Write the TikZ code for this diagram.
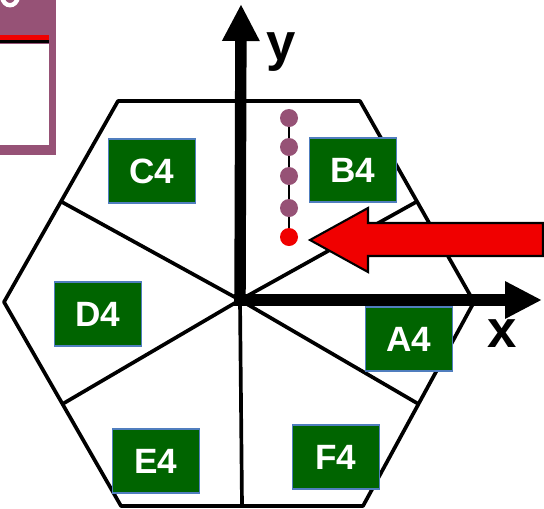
\documentclass[tikz,border=0pt]{standalone}
\usepackage{fontspec}
\setmainfont{Liberation Sans}
\usetikzlibrary{arrows.meta,calc,positioning}
\definecolor{boxgreen}{RGB}{0,100,0}
\definecolor{boxedge}{RGB}{80,126,190}
\definecolor{framepurple}{RGB}{150,82,118}
\definecolor{arrowred}{RGB}{240,0,0}

\begin{document}
\begin{tikzpicture}[x=0.02cm,y=-0.02cm,
    sector/.style={fill=boxgreen,draw=boxedge,line width=0.8pt,minimum width=1.74cm,
        minimum height=1.28cm,inner sep=0pt,text=white,font=\fontsize{20}{20}\selectfont\bfseries},
    dot/.style={circle,fill=framepurple,minimum size=0.36cm,inner sep=0pt},
    axis/.style={line width=6.5pt,-{Triangle[length=0.74cm,width=0.7cm]}}]
    \useasboundingbox (0,0) rectangle (544,508);
    % frame cut off at the corner
    \fill[framepurple] (0,0) rectangle (56,155);
    \fill[white] (0,44) rectangle (49,145);
    \fill[arrowred] (0,35) rectangle (49,40);
    \fill[black] (0,40) rectangle (49,43);
    \draw[white,line width=2.5pt] (2,-3) .. controls (4,8) and (16,8) .. (18,-3);
    % hexagon and its spokes
    \coordinate (O) at (240,300);
    \coordinate (v1) at (474,302);
    \coordinate (v2) at (360,101);
    \coordinate (v3) at (118,101);
    \coordinate (v4) at (4,302);
    \coordinate (v5) at (121,506);
    \coordinate (v6) at (363,506);
    \draw[line width=2.1pt,line join=round] (v1) -- (v2) -- (v3) -- (v4) -- (v5) -- (v6) -- cycle;
    \foreach \a/\b in {v1/v2,v3/v4,v4/v5,v5/v6,v6/v1}
        \draw[line width=2.1pt] (O) -- ($(\a)!0.5!(\b)$);
    % axes
    \draw[axis] (O) -- (241,4) coordinate (ytip);
    \draw[axis] (234,300) -- (542,300) coordinate (xtip);
    \node[font=\fontsize{30}{30}\selectfont\bfseries] (ylab) at (281,52) {y};
    \node[font=\fontsize{30}{30}\selectfont\bfseries] (xlab) at (502,334) {x};
    % sectors
    \node[sector] (C4) at (152,171) {C4};
    \node[sector] (B4) at (353,170) {B4};
    \node[sector] (D4) at (98,314) {D4};
    \node[sector] (A4) at (409,339) {A4};
    \node[sector] (E4) at (156,461) {E4};
    \node[sector] (F4) at (336,457) {F4};
    % points
    \node[dot] (p1) at (289,118) {};
    \node[dot] (p2) at (289,147) {};
    \node[dot] (p3) at (289,176) {};
    \node[dot] (p4) at (289,208) {};
    \node[dot,fill=arrowred] (p5) at (289,237) {};
    \draw[line width=1pt] (p1) -- (p2) -- (p3) -- (p4) -- (p5);
    % red arrow
    \draw[fill=arrowred,line width=1.2pt,line join=miter]
        (310,240) -- (368,208) -- (368,223) -- (543,223) -- (543,256)
        -- (368,256) -- (368,272) -- cycle;
\end{tikzpicture}
\end{document}
